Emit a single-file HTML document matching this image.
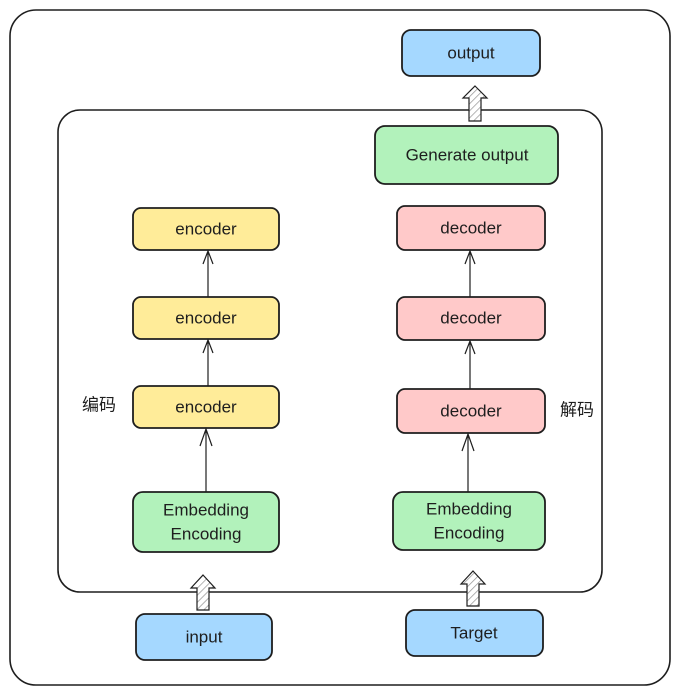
<!DOCTYPE html>
<html><head><meta charset="utf-8"><style>
html,body{margin:0;padding:0;background:#fff;}
svg{display:block}
text{font-family:"Liberation Sans","Noto Sans CJK SC",sans-serif;font-size:17px;fill:#1e1e1e;text-anchor:middle;dominant-baseline:central}
</style></head><body>
<svg width="680" height="694" viewBox="0 0 680 694" xmlns="http://www.w3.org/2000/svg">
<defs>
<pattern id="h" width="5" height="5" patternUnits="userSpaceOnUse" patternTransform="rotate(45)">
<rect width="5" height="5" fill="#fff"/><line x1="0" y1="0" x2="0" y2="5" stroke="#999" stroke-width="1.5"/></pattern>
<marker id="a" markerWidth="12" markerHeight="12" refX="6" refY="1" orient="auto-start-reverse" markerUnits="userSpaceOnUse">
</marker>
</defs>
<g fill="none" stroke="#1e1e1e" stroke-width="1.6">
<rect x="10" y="10" width="660" height="675" rx="26"/>
<rect x="58" y="110" width="544" height="482" rx="22"/>
</g>
<g stroke="#1e1e1e" stroke-width="1.8">
<rect x="402" y="30" width="138" height="46" rx="9" fill="#a5d8ff"/>
<rect x="375" y="126" width="183" height="58" rx="10" fill="#b2f2bb"/>
<rect x="133" y="208" width="146" height="42" rx="8" fill="#ffec99"/>
<rect x="133" y="297" width="146" height="42" rx="8" fill="#ffec99"/>
<rect x="133" y="386" width="146" height="42" rx="8" fill="#ffec99"/>
<rect x="397" y="206" width="148" height="44" rx="8" fill="#ffc9c9"/>
<rect x="397" y="297" width="148" height="43" rx="8" fill="#ffc9c9"/>
<rect x="397" y="389" width="148" height="44" rx="8" fill="#ffc9c9"/>
<rect x="133" y="492" width="146" height="60" rx="10" fill="#b2f2bb"/>
<rect x="393" y="492" width="152" height="58" rx="10" fill="#b2f2bb"/>
<rect x="136" y="614" width="136" height="46" rx="9" fill="#a5d8ff"/>
<rect x="406" y="610" width="137" height="46" rx="9" fill="#a5d8ff"/>
</g>
<g stroke="#1e1e1e" stroke-width="1.2" fill="none">
<path d="M208 297V252M203 264L208 251L213 264"/>
<path d="M208 386V341M203 353L208 340L213 353"/>
<path d="M206 492V430M200 446L206 429L212 446"/>
<path d="M470 297V252M465 264L470 251L475 264"/>
<path d="M470 389V342M465 354L470 341L475 354"/>
<path d="M468 492V435M462 451L468 434L474 451"/>
</g>
<g stroke="#1e1e1e" stroke-width="1.2" fill="url(#h)">
<polygon points="203,575 215,588 209,588 209,610 197,610 197,588 191,588"/>
<polygon points="473,571 485,584 479,584 479,606 467,606 467,584 461,584"/>
<polygon points="475,86 487,98 481,98 481,121 469,121 469,98 463,98"/>
</g>
<text x="471" y="53">output</text>
<text x="467" y="155">Generate output</text>
<text x="206" y="229">encoder</text>
<text x="206" y="318">encoder</text>
<text x="206" y="407">encoder</text>
<text x="471" y="228">decoder</text>
<text x="471" y="318">decoder</text>
<text x="471" y="411">decoder</text>
<text x="206" y="510">Embedding</text>
<text x="206" y="534">Encoding</text>
<text x="469" y="509">Embedding</text>
<text x="469" y="533">Encoding</text>
<text x="204" y="637">input</text>
<text x="474" y="633">Target</text>
<text x="99" y="405">编码</text>
<text x="577" y="410">解码</text>
</svg>
</body></html>
